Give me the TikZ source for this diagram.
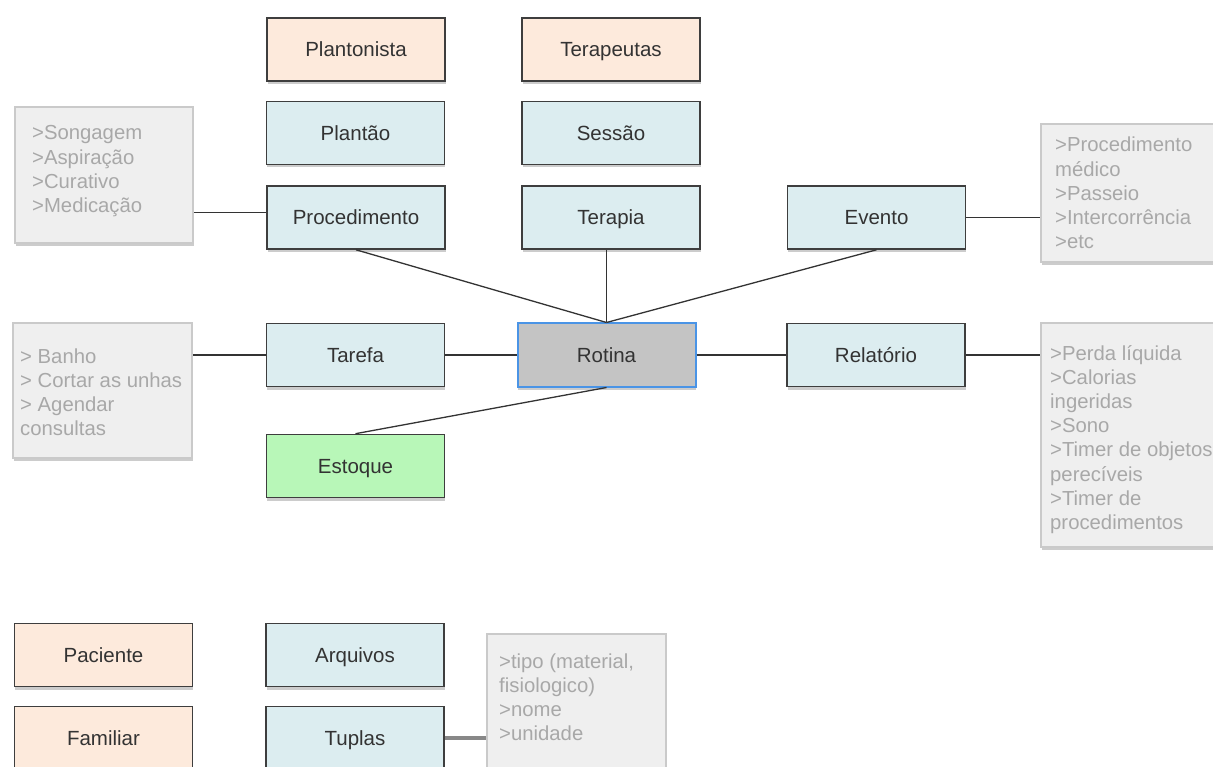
\documentclass[tikz,border=0pt]{standalone}
\usepackage{fontspec}
\setmainfont{Liberation Sans}
\usetikzlibrary{shadows}

\definecolor{peach}{HTML}{FDEADC}
\definecolor{ice}{HTML}{DCEDF0}
\definecolor{mint}{HTML}{B8F7B8}
\definecolor{core}{HTML}{C4C4C4}
\definecolor{coreline}{HTML}{4A94E6}
\definecolor{frame}{HTML}{3E3E3E}
\definecolor{labelink}{HTML}{333333}
\definecolor{notefill}{HTML}{EFEFEF}
\definecolor{noteline}{HTML}{CACACA}
\definecolor{noteink}{HTML}{A8A8A8}
\definecolor{wireink}{HTML}{333333}
\definecolor{graywire}{HTML}{888888}

\begin{document}
\begin{tikzpicture}[x=1pt,y=-1pt,
  softshadow/.style={drop shadow={shadow xshift=0.6pt,shadow yshift=-3pt,opacity=0.2,fill=black}},
  entity/.style={draw=frame,line width=1.6pt,minimum width=178pt,minimum height=63pt,
    inner sep=0pt,text=labelink,font=\fontsize{20.5}{24}\selectfont,
    text height=14.7pt,text depth=0pt,softshadow},
  actor/.style={entity,fill=peach},
  record/.style={entity,fill=ice},
  stock/.style={entity,fill=mint},
  hub/.style={entity,draw=coreline,line width=2pt,fill=core},
  notebox/.style={draw=noteline,line width=1.2pt,fill=notefill,inner sep=0pt,softshadow},
  notetext/.style={anchor=base west,inner sep=0pt,align=left,text=noteink,
    font=\fontsize{20.3}{24.2}\selectfont},
  wire/.style={draw=wireink,line width=1.3pt},
  thickwire/.style={draw=graywire,line width=3.2pt},
]
\useasboundingbox (0,0) rectangle (1213,767);
\clip (0,0) rectangle (1213,767);

% side notes (text nodes are placed by the baseline of their last line)
\node[notebox,minimum width=178pt,minimum height=136pt] (nproc) at (104,175) {};
\node[notetext] (nproctxt) at (32,212.6) {>Songagem\\>Aspiração\\>Curativo\\>Medicação};

\node[notebox,minimum width=179pt,minimum height=135pt] (ntar) at (102.5,390.5) {};
\node[notetext] (ntartxt) at (20,435.6) {> Banho\\> Cortar as unhas\\> Agendar\\consultas};

\node[notebox,minimum width=178pt,minimum height=138pt] (nev) at (1130,193) {};
\node[notetext] (nevtxt) at (1055,248.8) {>Procedimento\\médico\\>Passeio\\>Intercorrência\\>etc};

\node[notebox,minimum width=178pt,minimum height=224pt] (nrel) at (1130,435) {};
\node[notetext] (nreltxt) at (1050,529.4) {>Perda líquida\\>Calorias\\ingeridas\\>Sono\\>Timer de objetos\\perecíveis\\>Timer de\\procedimentos};

\node[notebox,minimum width=179pt,minimum height=136pt] (ntup) at (576.5,702) {};
\node[notetext] (ntuptxt) at (499,740.6) {>tipo (material,\\fisiologico)\\>nome\\>unidade};

% entities
\node[actor]  (plantonista) at (356,49.5)  {Plantonista};
\node[actor]  (terapeutas)  at (611,49.5)  {Terapeutas};
\node[record] (plantao)     at (355.5,133) {Plantão};
\node[record] (sessao)      at (611,133)   {Sessão};
\node[record] (proc)        at (356,217.5) {Procedimento};
\node[record] (terapia)     at (611,217.5) {Terapia};
\node[record] (evento)      at (876.5,217.5) {Evento};
\node[record] (tarefa)      at (355.5,355) {Tarefa};
\node[hub]    (rotina)      at (606.5,355) {Rotina};
\node[record] (relatorio)   at (876,355)   {Relatório};
\node[stock]  (estoque)     at (355.5,466) {Estoque};
\node[actor]  (paciente)    at (103.5,655) {Paciente};
\node[record] (arquivos)    at (355,655)   {Arquivos};
\node[actor]  (familiar)    at (103.5,738) {Familiar};
\node[record] (tuplas)      at (355,738)   {Tuplas};

% connectors
\coordinate (procin) at ([yshift=5pt]proc.west);
\draw[wire] (procin) -- (procin -| nproc.east);
\draw[wire] (tarefa.west) -- (tarefa.west -| ntar.east);
\draw[wire] (evento.east) -- (evento.east -| nev.west);
\draw[wire] (relatorio.east) -- (relatorio.east -| nrel.west);
\draw[thickwire] (tuplas.east) -- (tuplas.east -| ntup.west);

\draw[wire] (proc.south) -- (rotina.north);
\draw[wire] (rotina.north) -- (rotina.north |- terapia.south);
\draw[wire] (evento.south) -- (rotina.north);
\draw[wire] (tarefa.east) -- (rotina.west);
\draw[wire] (rotina.east) -- (relatorio.west);
\draw[wire] (rotina.south) -- (estoque.north);
\end{tikzpicture}
\end{document}
